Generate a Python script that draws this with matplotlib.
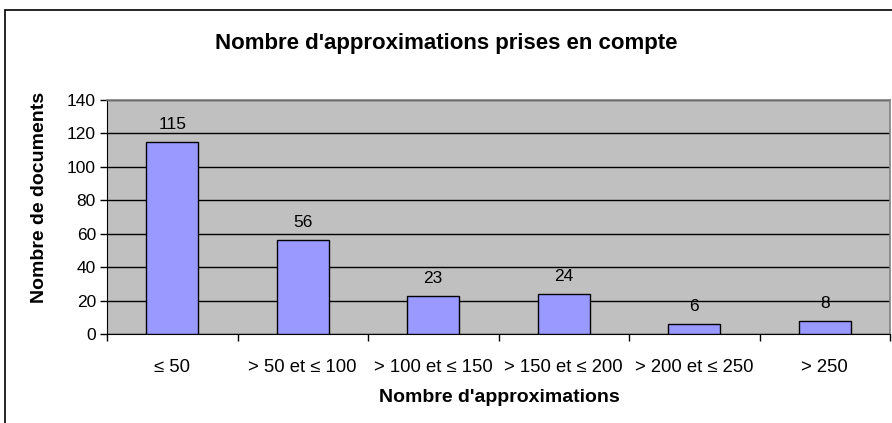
import matplotlib
matplotlib.use("Agg")
import matplotlib.pyplot as plt
from matplotlib.patches import Rectangle

categories = ["≤ 50", "> 50 et ≤ 100", "> 100 et ≤ 150", "> 150 et ≤ 200", "> 200 et ≤ 250", "> 250"]
values = [115, 56, 23, 24, 6, 8]
y_ticks = [0, 20, 40, 60, 80, 100, 120, 140]

plt.rcParams['font.family'] = ['Liberation Sans', 'DejaVu Sans']

W, H = 892, 423
fig = plt.figure(figsize=(W / 100, H / 100), dpi=100)
fig.patch.set_facecolor("white")

# outer chart frame
fig.add_artist(Rectangle((5 / W, -0.01), 1.0, 1 - 10 / H + 0.01, transform=fig.transFigure,
                         fill=False, edgecolor="black", linewidth=1.2))

left, right, top, bottom = 107, 890, 100, 334
ax = fig.add_axes([left / W, 1 - bottom / H, (right - left) / W, (bottom - top) / H])
ax.set_facecolor("#C0C0C0")

x = list(range(len(categories)))
ax.bar(x, values, width=0.4, color="#9999FF", edgecolor="black", linewidth=1.0, zorder=3)
for xi, v in zip(x, values):
    ax.text(xi, v + 6, str(v), ha="center", va="bottom", fontsize=12.5, zorder=4)

ax.set_xlim(-0.5, len(categories) - 0.5)
ax.set_ylim(0, 140)
ax.set_yticks(y_ticks)
ax.yaxis.grid(True, color="black", linewidth=1.0, zorder=1)
ax.set_axisbelow(True)

# category ticks sit between bars; labels centered under bars
ax.set_xticks([i - 0.5 for i in range(len(categories) + 1)])
ax.set_xticklabels([])
ax.set_xticks(x, minor=True)
ax.set_xticklabels(categories, minor=True, fontsize=13.3)
ax.tick_params(axis="x", which="major", length=5, width=1, direction="out")
ax.tick_params(axis="x", which="minor", length=0, pad=18)
ax.tick_params(axis="y", length=5, width=1, direction="out", labelsize=12.5, pad=3)

for side in ("top", "right"):
    ax.spines[side].set_color("#808080")
    ax.spines[side].set_linewidth(1.2)
ax.spines["left"].set_color("black")
ax.spines["bottom"].set_color("black")

ax.set_xlabel("Nombre d'approximations", fontsize=14, fontweight="bold")
ax.set_ylabel("Nombre de documents", fontsize=14, fontweight="bold")
ax.xaxis.set_label_coords((499 - left) / (right - left), -(397 - bottom) / (bottom - top))
ax.xaxis.label.set_va("center")
ax.yaxis.set_label_coords(-(left - 40) / (right - left), (bottom - 197) / (bottom - top))
ax.yaxis.label.set_va("center")

fig.text(446 / W, 1 - 43 / H, "Nombre d'approximations prises en compte",
         ha="center", va="center", fontsize=16, fontweight="bold")

fig.savefig("out.png", dpi=100)
